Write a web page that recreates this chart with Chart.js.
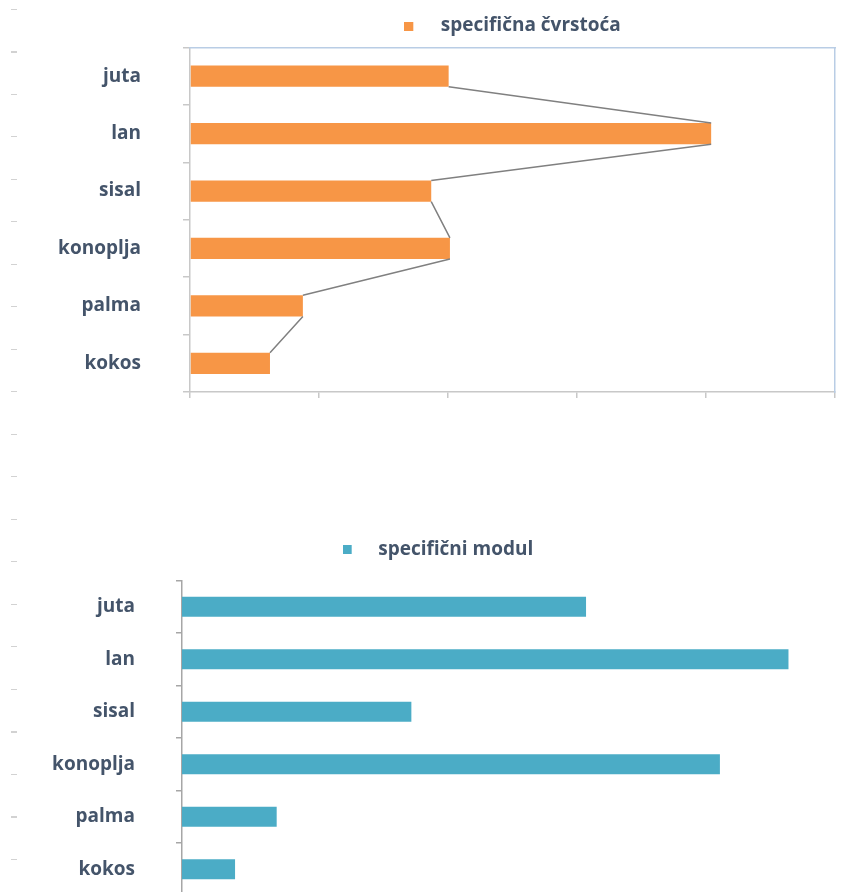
<!DOCTYPE html>
<html>
<head>
<meta charset="utf-8">
<script src="https://cdn.jsdelivr.net/npm/chart.js@4.4.1/dist/chart.umd.min.js"></script>
<style>
  html, body { margin: 0; padding: 0; background: #fff; overflow: hidden; width: 849px; height: 892px; }
  .crtice {
    position: absolute; left: 11px; top: 9px; width: 6px; height: 880px;
    background: repeating-linear-gradient(to bottom, #d2d2d2 0, #d2d2d2 1px, transparent 1px, transparent 42.5px);
  }
  #gornji { position: absolute; left: 0; top: 0; }
  #donji { position: absolute; left: 0; top: 520px; }
</style>
</head>
<body>
<div class="crtice"></div>
<canvas id="gornji" width="849" height="410"></canvas>
<canvas id="donji" width="849" height="390"></canvas>
<script>
const vlakna = ['juta', 'lan', 'sisal', 'konoplja', 'palma', 'kokos'];
const cvrstoca = [401, 808, 374, 403, 175, 124];
const modul = [49.5, 74.3, 28.1, 65.9, 11.6, 6.5];
const cvrstocaTicks = [0, 200, 400, 600, 800, 1000];
const modulMax = 80;

const narancasta = '#F79646';
const tirkizna = '#4BACC6';
const tekst = '#44546a';

// mali kvadrat za legendu, lijevo poravnat u sirem polju
function kvadratic(boja, sirina) {
  const c = document.createElement('canvas');
  c.width = sirina;
  c.height = 9;
  const g = c.getContext('2d');
  g.fillStyle = boja;
  g.fillRect(0, 0, 9, 9);
  return c;
}

// linija koja spaja krajeve stupaca
const spojnica = {
  id: 'spojnica',
  afterDatasetsDraw(chart) {
    const bars = chart.getDatasetMeta(0).data;
    const ctx = chart.ctx;
    ctx.save();
    ctx.strokeStyle = '#808080';
    ctx.lineWidth = 1.5;
    ctx.beginPath();
    for (let i = 0; i < bars.length - 1; i++) {
      const a = bars[i], b = bars[i + 1];
      ctx.moveTo(a.x, a.y + a.height / 2);
      ctx.lineTo(b.x, b.y - b.height / 2);
    }
    ctx.stroke();
    ctx.restore();
  }
};

// fiksna sirina osi, bez dodatnog razmaka gore/dolje
function sirinaOsi(w) {
  return function (s) {
    s.width = w;
    s.paddingTop = 0;
    s.paddingBottom = 0;
  };
}

function nacrtaj() {
  new Chart(document.getElementById('gornji'), {
    type: 'bar',
    data: {
      labels: vlakna,
      datasets: [{
        label: 'specifična čvrstoća',
        data: cvrstoca,
        backgroundColor: narancasta,
        borderWidth: 0,
        barPercentage: 0.37,
        categoryPercentage: 1
      }]
    },
    options: {
      indexAxis: 'y',
      responsive: false,
      animation: false,
      layout: { padding: { top: 6.5, bottom: 12, left: 0, right: 14 } },
      scales: {
        x: {
          min: cvrstocaTicks[0],
          max: cvrstocaTicks[cvrstocaTicks.length - 1],
          ticks: { display: false, stepSize: cvrstocaTicks[1] - cvrstocaTicks[0] },
          grid: { drawOnChartArea: false, drawTicks: true, tickLength: 6, color: '#c8c8c8', lineWidth: 1.5 },
          border: { color: '#c8c8c8', width: 1.5 }
        },
        y: {
          ticks: { color: tekst, font: { family: 'Open Sans', weight: 'bold', size: 19 }, padding: 42 },
          grid: { drawOnChartArea: false, tickLength: 7, color: '#c8c8c8', lineWidth: 1.5, offset: true },
          border: { color: '#c8c8c8', width: 1.5 },
          afterFit: sirinaOsi(190)
        },
        x2: {
          position: 'top',
          ticks: { display: false },
          grid: { drawOnChartArea: false, tickLength: 2, color: 'transparent' },
          border: { color: '#b9cde5', width: 1.5 }
        },
        y2: {
          position: 'right',
          ticks: { display: false },
          grid: { drawOnChartArea: false, drawTicks: false },
          border: { color: '#b9cde5', width: 1.5 }
        }
      },
      plugins: {
        legend: {
          position: 'top',
          fullSize: false,
          labels: {
            usePointStyle: true,
            pointStyle: kvadratic(narancasta, 27),
            pointStyleWidth: 27,
            padding: 10,
            color: tekst,
            font: { family: 'Open Sans', weight: 'bold', size: 19 }
          }
        },
        tooltip: { enabled: false }
      }
    },
    plugins: [spojnica]
  });

  new Chart(document.getElementById('donji'), {
    type: 'bar',
    data: {
      labels: vlakna,
      datasets: [{
        label: 'specifični modul',
        data: modul,
        backgroundColor: tirkizna,
        borderWidth: 0,
        barPercentage: 0.38,
        categoryPercentage: 1
      }]
    },
    options: {
      indexAxis: 'y',
      responsive: false,
      animation: false,
      layout: { padding: { top: 10, bottom: 14.4, left: 41, right: 14 } },
      scales: {
        x: { display: false, min: 0, max: modulMax },
        y: {
          ticks: { color: tekst, font: { family: 'Open Sans', weight: 'bold', size: 19 }, padding: 41 },
          grid: { drawOnChartArea: false, tickLength: 6, color: '#a6a6a6', lineWidth: 1.5, offset: true },
          border: { color: '#a6a6a6', width: 1.5 },
          afterFit: sirinaOsi(141)
        },
        x2: {
          position: 'top',
          ticks: { display: false },
          grid: { drawOnChartArea: false, tickLength: 11.5, color: 'transparent' },
          border: { display: false }
        }
      },
      plugins: {
        legend: {
          position: 'top',
          labels: {
            usePointStyle: true,
            pointStyle: kvadratic(tirkizna, 26),
            pointStyleWidth: 26,
            padding: 10,
            color: tekst,
            font: { family: 'Open Sans', weight: 'bold', size: 19 }
          }
        },
        tooltip: { enabled: false }
      }
    }
  });
}

document.fonts.load('bold 19px "Open Sans"').then(nacrtaj, nacrtaj);
</script>
</body>
</html>
